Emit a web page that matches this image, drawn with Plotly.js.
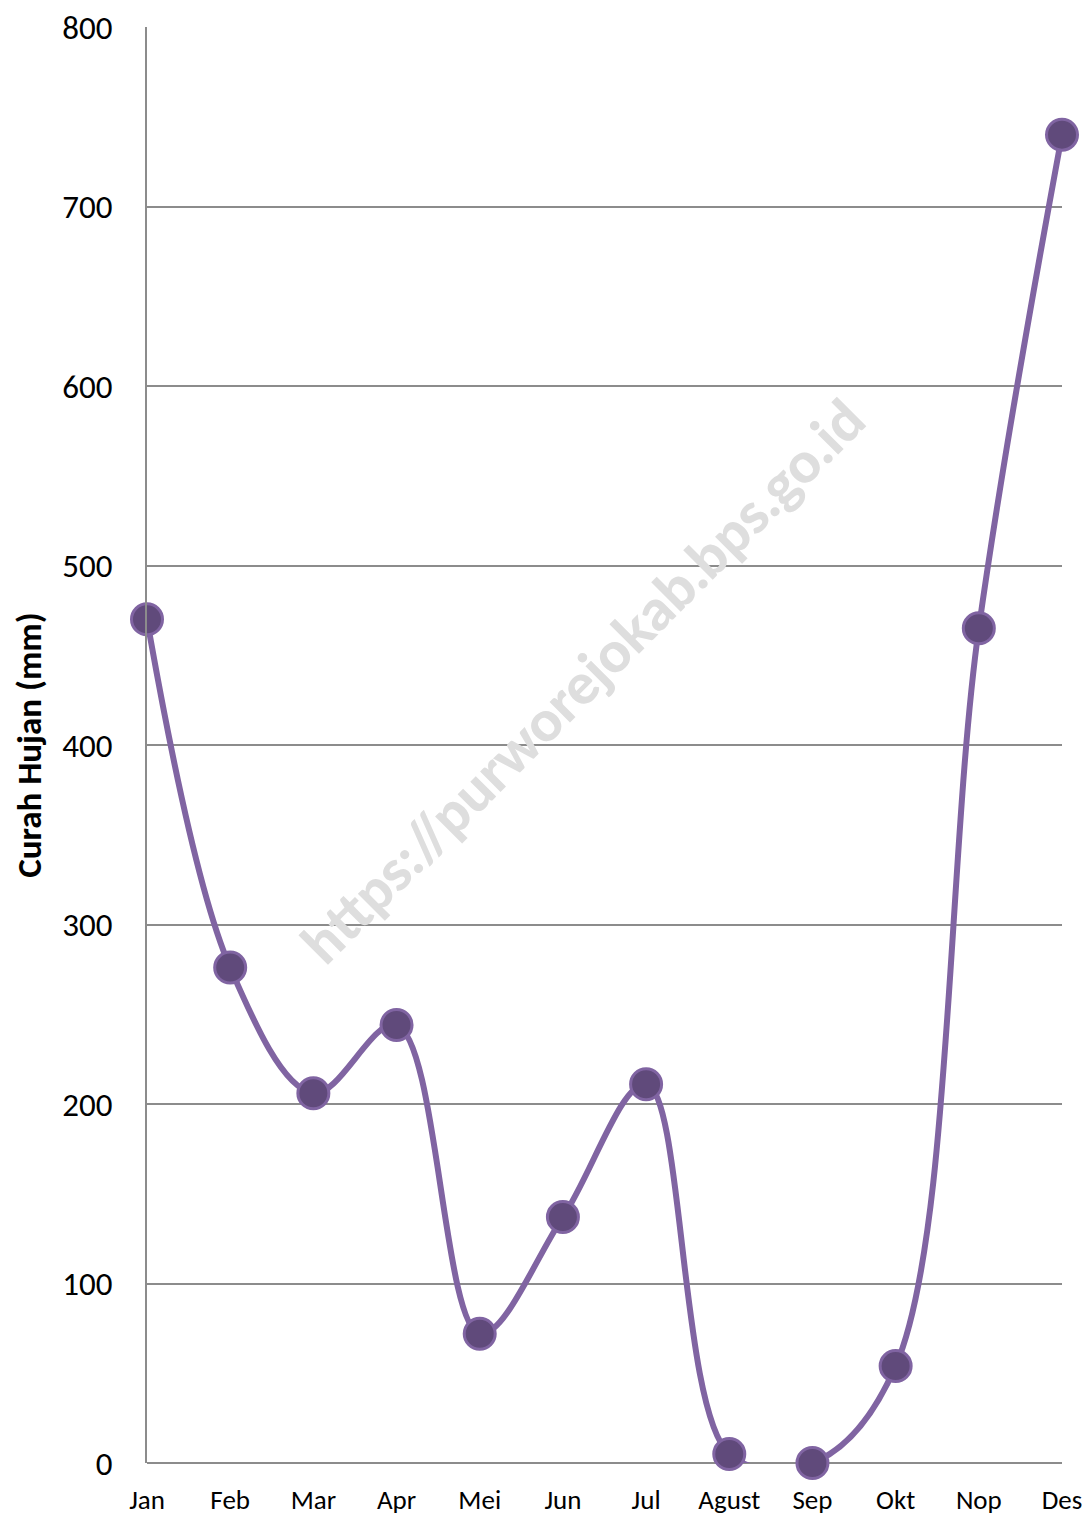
<!DOCTYPE html>
<html>
<head>
<meta charset="utf-8">
<script src="https://cdn.plot.ly/plotly-3.0.1.min.js"></script>
<style>html,body{margin:0;padding:0;background:#fff;}#chart{width:1089px;height:1519px;}</style>
</head>
<body>
<div id="chart"></div>
<script>
const months = ["Jan","Feb","Mar","Apr","Mei","Jun","Jul","Agust","Sep","Okt","Nop","Des"];
const rainfall = [470, 276, 206, 244, 72, 137, 211, 5, 0, 54, 465, 740];
const yTicks = [0, 100, 200, 300, 400, 500, 600, 700, 800];
const yTitle = "Curah Hujan (mm)";
const watermark = "https://purworejokab.bps.go.id";

const FONT = "Carlito, Lato, 'Open Sans', sans-serif";

const trace = {
  x: months,
  y: rainfall,
  type: "scatter",
  mode: "lines+markers",
  line: {color: "#8064a2", width: 6, shape: "spline", smoothing: 1},
  marker: {size: 31, color: "#604a7b", line: {color: "#8064a2", width: 3}},
  cliponaxis: false,
  hoverinfo: "x+y"
};

const layout = {
  width: 1089,
  height: 1519,
  margin: {l: 147, r: 27, t: 27, b: 56, pad: 0},
  paper_bgcolor: "#ffffff",
  plot_bgcolor: "#ffffff",
  showlegend: false,
  font: {family: FONT, color: "#000000"},
  xaxis: {
    type: "category",
    range: [0, 11],
    showgrid: false,
    showline: false,
    zeroline: false,
    ticks: "",
    ticklabelstandoff: 18,
    tickfont: {size: 27, family: FONT, color: "#000"}
  },
  yaxis: {
    range: [0, 800],
    tickvals: yTicks,
    showgrid: true,
    gridcolor: "#8c8c8c",
    gridwidth: 2,
    showline: true,
    linecolor: "#8c8c8c",
    linewidth: 2,
    zeroline: true,
    zerolinecolor: "#8c8c8c",
    zerolinewidth: 2,
    ticks: "",
    ticklabelstandoff: 26,
    tickfont: {size: 33, family: FONT, color: "#000"},
    title: {text: yTitle, font: {size: 35, family: FONT, color: "#000", weight: "bold"}, standoff: 10}
  },
  annotations: [{
    text: watermark,
    xref: "paper", yref: "paper",
    x: 0.475, y: 0.545,
    showarrow: false,
    textangle: -45,
    font: {size: 56, family: "Lato, 'Open Sans', sans-serif", color: "#dedede", weight: 900}
  }]
};

Plotly.newPlot("chart", [trace], layout, {displayModeBar: false, staticPlot: true});
</script>
</body>
</html>
